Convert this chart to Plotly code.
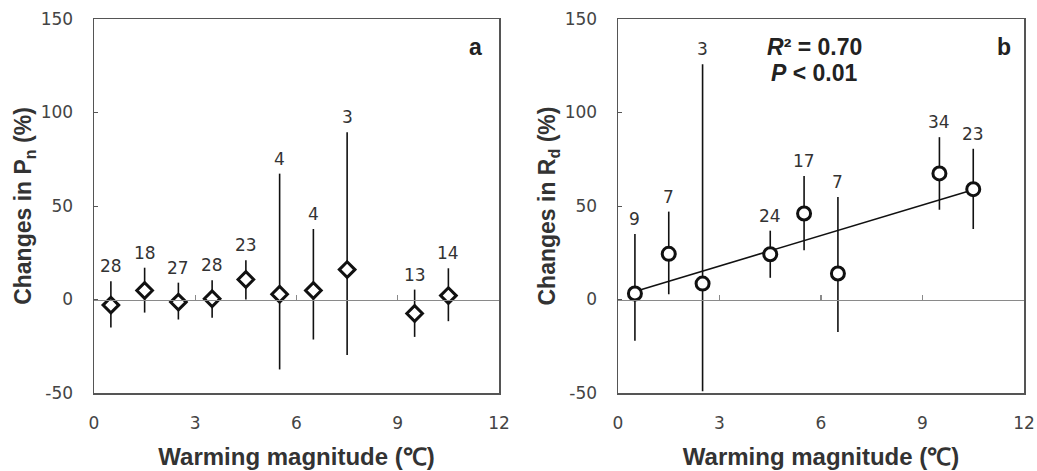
import plotly.graph_objects as go

# ---------------- data ----------------
# Panel a: changes in Pn
a_x = [0.5, 1.5, 2.5, 3.5, 4.5, 5.5, 6.5, 7.5, 9.5, 10.5]
a_y = [-3.0, 4.8, -1.4, 0.4, 10.7, 2.8, 4.8, 16.0, -7.5, 2.1]
a_hi = [9.8, 17.0, 9.0, 10.3, 21.0, 67.3, 37.7, 89.5, 5.3, 16.7]
a_lo = [-15.0, -7.0, -10.7, -9.8, 0.0, -37.4, -21.4, -29.7, -20.0, -11.6]
a_n = [28, 18, 27, 28, 23, 4, 4, 3, 13, 14]

# Panel b: changes in Rd
b_x = [0.5, 1.5, 2.5, 4.5, 5.5, 6.5, 9.5, 10.5]
b_y = [3.2, 24.4, 8.5, 24.2, 46.0, 13.9, 67.4, 59.0]
b_hi = [35.0, 47.0, 125.8, 36.8, 66.0, 54.8, 86.8, 80.6]
b_lo = [-22.0, 2.8, -49.0, 11.6, 26.3, -17.4, 48.0, 37.7]
b_n = [9, 7, 3, 24, 17, 7, 34, 23]

# regression line in panel b
fit_x = [0.5, 10.5]
fit_y = [4.3, 58.7]

x_ticks = [0, 3, 6, 9, 12]
inner_ticks = [3, 6, 9]
y_ticks = [-50, 0, 50, 100, 150]
y_tick_text = ["-50", "0", "50", "100", "150"]

# ---------------- layout constants ----------------
DOM_A = [94 / 1037, 499 / 1037]
DOM_B = [618 / 1037, 1024 / 1037]
DOM_Y = [1 - 393 / 471, 1 - 19 / 471]
ZERO_POS = DOM_Y[0] + (0 - (-50)) / 200 * (DOM_Y[1] - DOM_Y[0])

TICK_FONT = dict(family="DejaVu Sans", size=17, color="#444444")
TITLE_FONT = dict(family="Liberation Sans, Arial, sans-serif", size=23, color="#333333")
XTITLE_FONT = dict(family="Liberation Sans, Arial, sans-serif", size=24, color="#333333")
BOX = "#555555"
GRAY = "#8a8a8a"

fig = go.Figure()


def err(y, hi, lo):
    return dict(type="data", symmetric=False,
                array=[h - v for h, v in zip(hi, y)],
                arrayminus=[v - l for v, l in zip(y, lo)],
                color="#111111", thickness=1.6, width=0)


fig.add_trace(go.Scatter(
    x=a_x, y=a_y, mode="markers", xaxis="x", yaxis="y",
    error_y=err(a_y, a_hi, a_lo),
    marker=dict(symbol="diamond", size=12, color="white",
                line=dict(color="#111111", width=3)),
    showlegend=False))

fig.add_trace(go.Scatter(
    x=fit_x, y=fit_y, mode="lines", xaxis="x2", yaxis="y2",
    line=dict(color="#111111", width=1.6), showlegend=False))

fig.add_trace(go.Scatter(
    x=b_x, y=b_y, mode="markers", xaxis="x2", yaxis="y2",
    error_y=err(b_y, b_hi, b_lo),
    marker=dict(symbol="circle", size=13, color="white",
                line=dict(color="#111111", width=3)),
    showlegend=False))

# empty traces so the zero-line axes with inner ticks get drawn
fig.add_trace(go.Scatter(x=[], y=[], xaxis="x3", yaxis="y", showlegend=False))
fig.add_trace(go.Scatter(x=[], y=[], xaxis="x4", yaxis="y2", showlegend=False))

LABEL_FONT = dict(family="DejaVu Sans", size=17, color="#333333")
annotations = []
for x, top, n in zip(a_x, a_hi, a_n):
    annotations.append(dict(x=x, y=top, xref="x", yref="y", text=str(n),
                            showarrow=False, yanchor="bottom", yshift=3,
                            font=LABEL_FONT))
for x, top, n in zip(b_x, b_hi, b_n):
    annotations.append(dict(x=x, y=top, xref="x2", yref="y2", text=str(n),
                            showarrow=False, yanchor="bottom", yshift=3,
                            font=LABEL_FONT))

BIG = dict(family="Liberation Sans", size=23, color="#222222")
annotations += [
    dict(x=11.3, y=135, xref="x", yref="y", text="<b>a</b>", showarrow=False, font=BIG),
    dict(x=11.4, y=135, xref="x2", yref="y2", text="<b>b</b>", showarrow=False, font=BIG),
    dict(x=5.8, y=135, xref="x2", yref="y2",
         text="<b><i>R</i>² = 0.70</b>", showarrow=False, font=BIG),
    dict(x=5.8, y=121, xref="x2", yref="y2",
         text="<b><i>P</i> &lt; 0.01</b>", showarrow=False, font=BIG),
]


def xax(domain, anchor):
    return dict(domain=domain, anchor=anchor, range=[0, 12], tickvals=x_ticks,
                ticks="", showline=True, mirror=True, linecolor=BOX, linewidth=1.5,
                showgrid=False, zeroline=False, tickfont=TICK_FONT,
                ticklabelstandoff=14, automargin=False,
                title=dict(text="<b>Warming magnitude (℃)</b>", font=XTITLE_FONT, standoff=16),
                fixedrange=True)


def yax(anchor, title):
    return dict(domain=DOM_Y, anchor=anchor, range=[-50, 150], tickvals=y_ticks,
                ticktext=y_tick_text,
                ticks="inside", ticklen=4, tickcolor=BOX, showline=True, mirror=True,
                linecolor=BOX, linewidth=1.5, showgrid=False, zeroline=False,
                tickfont=TICK_FONT, ticklabelstandoff=16, automargin=False,
                title=dict(text=title, font=TITLE_FONT, standoff=2), fixedrange=True)


def zax(overlay, domain):
    return dict(overlaying=overlay, anchor="free", position=ZERO_POS, domain=domain,
                range=[0, 12], tickvals=inner_ticks, ticks="inside", ticklen=5,
                tickcolor=GRAY, tickwidth=1.3, showticklabels=False, showline=True,
                linecolor=GRAY, linewidth=1.5, showgrid=False, zeroline=False,
                automargin=False, fixedrange=True)


fig.update_layout(
    template="none",
    width=1037, height=471,
    margin=dict(l=0, r=0, t=0, b=0),
    paper_bgcolor="white", plot_bgcolor="white",
    xaxis=xax(DOM_A, "y"),
    yaxis=yax("x", "<b>Changes in P<sub>n</sub> (%)</b>"),
    xaxis2=xax(DOM_B, "y2"),
    yaxis2=yax("x2", "<b>Changes in R<sub>d</sub> (%)</b>"),
    xaxis3=zax("x", DOM_A),
    xaxis4=zax("x2", DOM_B),
    annotations=annotations,
)

fig.write_html("out.html",
               config={"displayModeBar": False, "staticPlot": True},
               post_script="document.body.style.margin='0';document.body.style.overflow='hidden';")
